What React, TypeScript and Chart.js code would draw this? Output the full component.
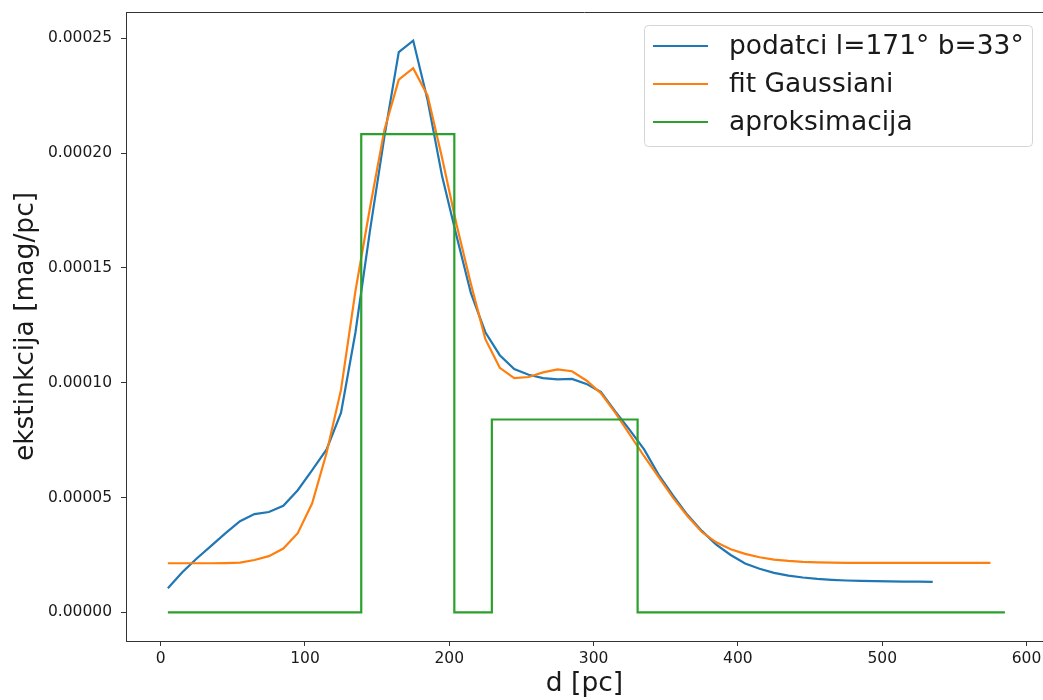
import React, { useEffect, useRef } from 'react';
import { Chart, registerables } from 'chart.js';

Chart.register(...registerables);

// distance [pc] of the data samples
const dataX = [5, 15, 25, 35, 45, 55, 65, 75, 85, 95, 105, 115, 125, 135, 145, 155, 165, 175, 185, 195, 205, 215, 225, 235, 245, 255, 265, 275, 285, 295, 305, 315, 325, 335, 345, 355, 365, 375, 385, 395, 405, 415, 425, 435, 445, 455, 465, 475, 485, 495, 505, 515, 525, 535];
// extinction [mag/pc]
const dataY = [1.05e-5, 1.75e-5, 2.35e-5, 2.9e-5, 3.45e-5, 3.97e-5, 4.28e-5, 4.37e-5, 4.64e-5, 5.32e-5, 6.2e-5, 7.1e-5, 8.7e-5, 12.2e-5, 16.6e-5, 20.7e-5, 24.4e-5, 24.9e-5, 22.3e-5, 19.0e-5, 16.4e-5, 13.9e-5, 12.2e-5, 11.2e-5, 10.6e-5, 10.35e-5, 10.2e-5, 10.15e-5, 10.17e-5, 9.95e-5, 9.6e-5, 8.75e-5, 7.95e-5, 7.1e-5, 6.0e-5, 5.1e-5, 4.25e-5, 3.55e-5, 2.95e-5, 2.5e-5, 2.13e-5, 1.9e-5, 1.72e-5, 1.6e-5, 1.52e-5, 1.46e-5, 1.42e-5, 1.39e-5, 1.37e-5, 1.36e-5, 1.35e-5, 1.34e-5, 1.34e-5, 1.33e-5];

// gaussian fit
const fitX = [5, 15, 25, 35, 45, 55, 65, 75, 85, 95, 105, 115, 125, 135, 145, 155, 165, 175, 185, 195, 205, 215, 225, 235, 245, 255, 265, 275, 285, 295, 305, 315, 325, 335, 345, 355, 365, 375, 385, 395, 405, 415, 425, 435, 445, 455, 465, 475, 485, 495, 505, 515, 525, 535, 545, 555, 565, 575];
const fitY = [2.14e-5, 2.14e-5, 2.14e-5, 2.14e-5, 2.15e-5, 2.17e-5, 2.28e-5, 2.45e-5, 2.78e-5, 3.45e-5, 4.75e-5, 6.95e-5, 9.7e-5, 14.0e-5, 17.6e-5, 21.0e-5, 23.2e-5, 23.7e-5, 22.5e-5, 19.8e-5, 16.9e-5, 14.3e-5, 11.9e-5, 10.65e-5, 10.2e-5, 10.25e-5, 10.45e-5, 10.58e-5, 10.5e-5, 10.1e-5, 9.55e-5, 8.7e-5, 7.75e-5, 6.8e-5, 5.9e-5, 5.0e-5, 4.2e-5, 3.5e-5, 3.05e-5, 2.75e-5, 2.55e-5, 2.4e-5, 2.3e-5, 2.24e-5, 2.2e-5, 2.18e-5, 2.17e-5, 2.16e-5, 2.16e-5, 2.16e-5, 2.16e-5, 2.16e-5, 2.16e-5, 2.16e-5, 2.16e-5, 2.16e-5, 2.16e-5, 2.16e-5];

// step approximation (value holds until next edge; stepped "before")
const approxX = [5, 139, 203.5, 229.5, 330.5, 585];
const approxY = [0, 20.83e-5, 0, 8.4e-5, 0, 0];

const seriesLabels = ['podatci l=171° b=33°', 'fit Gaussiani', 'aproksimacija'];
const seriesColors = ['#1f77b4', '#ff7f0e', '#2ca02c'];

const xTicks = [0, 100, 200, 300, 400, 500, 600];
const yTicks = [0, 0.00005, 0.0001, 0.00015, 0.0002, 0.00025];
const yTickLabels = ['0.00000', '0.00005', '0.00010', '0.00015', '0.00020', '0.00025'];

const FONT = '"DejaVu Sans", "Liberation Sans", sans-serif';

const toPoints = (xs: number[], ys: number[]) => xs.map((x, i) => ({ x, y: ys[i] }));

const topSpine = {
  id: 'topSpine',
  afterDraw(chart: any) {
    const { ctx, chartArea } = chart;
    ctx.save();
    ctx.strokeStyle = '#333';
    ctx.lineWidth = 1;
    ctx.beginPath();
    ctx.moveTo(chartArea.left, chartArea.top + 0.5);
    ctx.lineTo(chartArea.right, chartArea.top + 0.5);
    ctx.stroke();
    ctx.restore();
  },
};

const mplLegend = {
  id: 'mplLegend',
  afterDraw(chart: any) {
    const { ctx } = chart;
    const rows = [46, 84, 122];
    ctx.save();
    ctx.beginPath();
    (ctx as any).roundRect(644.5, 25.5, 388, 121, 4);
    ctx.fillStyle = 'rgba(255,255,255,0.8)';
    ctx.fill();
    ctx.strokeStyle = '#d5d5d5';
    ctx.lineWidth = 1;
    ctx.stroke();
    chart.data.datasets.forEach((ds: any, i: number) => {
      const y = rows[i];
      ctx.strokeStyle = ds.borderColor;
      ctx.lineWidth = 2.2;
      ctx.beginPath();
      ctx.moveTo(653, y);
      ctx.lineTo(708, y);
      ctx.stroke();
      ctx.fillStyle = '#1a1a1a';
      ctx.font = `26.5px ${FONT}`;
      ctx.textBaseline = 'middle';
      ctx.textAlign = 'left';
      ctx.fillText(ds.label, 729, y + 1);
    });
    ctx.restore();
  },
};

const zeroPad = (s: any) => {
  s.paddingTop = 0;
  s.paddingBottom = 0;
  s.paddingLeft = 0;
  s.paddingRight = 0;
};

export default function App() {
  const ref = useRef<HTMLCanvasElement | null>(null);

  useEffect(() => {
    if (!ref.current) return;
    const chart = new Chart(ref.current, {
      type: 'line',
      data: {
        datasets: [
          {
            label: seriesLabels[0],
            data: toPoints(dataX, dataY),
            borderColor: seriesColors[0],
            backgroundColor: seriesColors[0],
            borderWidth: 2.2,
            pointRadius: 0,
            tension: 0,
            order: 3,
          },
          {
            label: seriesLabels[1],
            data: toPoints(fitX, fitY),
            borderColor: seriesColors[1],
            backgroundColor: seriesColors[1],
            borderWidth: 2.2,
            pointRadius: 0,
            tension: 0,
            order: 2,
          },
          {
            label: seriesLabels[2],
            data: toPoints(approxX, approxY),
            borderColor: seriesColors[2],
            backgroundColor: seriesColors[2],
            borderWidth: 2.2,
            pointRadius: 0,
            stepped: 'before',
            order: 1,
          },
        ],
      },
      options: {
        animation: false,
        responsive: false,
        layout: { padding: { top: 12, right: 0, left: 0, bottom: 0 } },
        plugins: { legend: { display: false }, tooltip: { enabled: false } },
        scales: {
          x: {
            type: 'linear',
            min: -24,
            max: 611.4,
            afterBuildTicks: (s: any) => {
              s.ticks = xTicks.map((v) => ({ value: v }));
            },
            afterFit: (s: any) => {
              s.height = 59;
              zeroPad(s);
            },
            grid: { display: true, drawOnChartArea: false, drawTicks: true, tickLength: 5, color: '#333', tickColor: '#333' },
            border: { display: true, color: '#333', width: 1 },
            ticks: {
              color: '#1a1a1a',
              font: { family: FONT, size: 15.5 },
              padding: 4,
              maxRotation: 0,
              autoSkip: false,
              callback: (v: any) => String(v),
            },
            title: {
              display: true,
              text: 'd [pc]',
              color: '#1a1a1a',
              font: { family: FONT, size: 26.5 },
              padding: { top: 0, bottom: 0 },
            },
          },
          y: {
            type: 'linear',
            min: -1.245e-5,
            max: 26.145e-5,
            afterBuildTicks: (s: any) => {
              s.ticks = yTicks.map((v) => ({ value: v }));
            },
            afterFit: (s: any) => {
              s.width = 126;
              zeroPad(s);
            },
            grid: { display: true, drawOnChartArea: false, drawTicks: true, tickLength: 5, color: '#333', tickColor: '#333' },
            border: { display: true, color: '#333', width: 1 },
            ticks: {
              color: '#1a1a1a',
              font: { family: FONT, size: 15.5 },
              padding: 9,
              autoSkip: false,
              callback: (v: any) => {
                const i = yTicks.findIndex((t) => Math.abs(t - v) < 1e-9);
                return i >= 0 ? yTickLabels[i] : '';
              },
            },
            title: {
              display: true,
              text: 'ekstinkcija [mag/pc]',
              color: '#1a1a1a',
              font: { family: FONT, size: 26.5 },
              padding: { top: 10, bottom: 0 },
            },
          },
        },
      },
      plugins: [topSpine, mplLegend],
    });
    return () => chart.destroy();
  }, []);

  return (
    <div style={{ position: 'absolute', left: 0, top: 0, width: 1043, height: 700, background: '#fff' }}>
      <canvas ref={ref} width={1043} height={700} style={{ display: 'block' }} />
    </div>
  );
}
